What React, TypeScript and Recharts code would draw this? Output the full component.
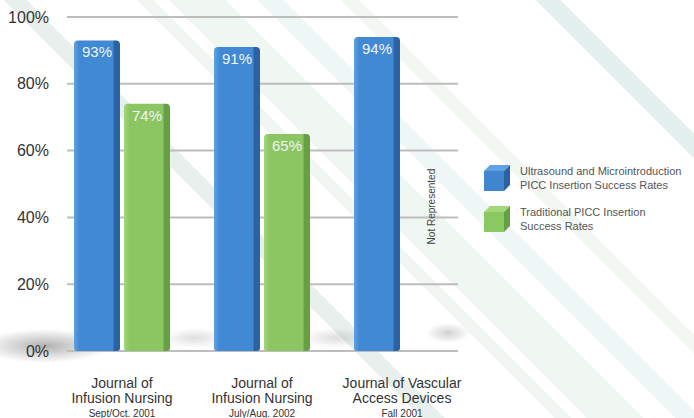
import { BarChart, Bar, XAxis, YAxis, CartesianGrid, LabelList, Legend } from "recharts"

// journals and results
const titleLine1 = ["Journal of", "Journal of", "Journal of Vascular"]
const titleLine2 = ["Infusion Nursing", "Infusion Nursing", "Access Devices"]
const issueDates = ["Sept/Oct. 2001", "July/Aug. 2002", "Fall 2001"]
const ultrasoundRates = [93, 91, 94]
const traditionalRates: (number | null)[] = [74, 65, null]
const yTicks = [0, 20, 40, 60, 80, 100]

const seriesNames = {
  ultrasound: ["Ultrasound and Microintroduction", "PICC Insertion Success Rates"],
  traditional: ["Traditional PICC Insertion", "Success Rates"],
}

const data = titleLine1.map((t, i) => ({
  key: String(i),
  ultrasound: ultrasoundRates[i],
  traditional: traditionalRates[i],
}))

const FONT = "'Liberation Sans', Arial, Helvetica, sans-serif"

const COLORS = {
  ultrasound: { light: "#5fa2e2", main: "#4189d2", dark: "#2b62a3", cube: "#3f86cf" },
  traditional: { light: "#a3d77a", main: "#8cc663", dark: "#679f45", cube: "#8ac862" },
}

const stripe = (t: number, w: number, c: string) =>
  `linear-gradient(45deg, transparent ${t}px, ${c} ${t}px, ${c} ${t + w}px, transparent ${t + w}px)`

const shadow = (x: number, y: number, rx: number, ry: number, a: number) =>
  `radial-gradient(ellipse ${rx}px ${ry}px at ${x}px ${y}px, rgba(70,70,70,${a}), rgba(70,70,70,0))`

const background = [
  shadow(45, 346, 65, 17, 0.42),
  shadow(195, 338, 32, 10, 0.18),
  shadow(335, 338, 32, 10, 0.18),
  shadow(448, 333, 22, 10, 0.25),
  stripe(298, 16, "#e9efec"),
  stripe(392, 12, "#f2f6f3"),
  stripe(415, 40, "#f0f6f2"),
  stripe(478, 18, "#eef7f6"),
  stripe(536, 14, "#f2f7f1"),
  stripe(674, 18, "#e3f0ee"),
].join(", ")

function JournalTick(props: any) {
  const { x, y, payload } = props
  const i = Number(payload.value)
  return (
    <g transform={`translate(${x},${y})`}>
      <text textAnchor="middle" fontFamily={FONT} fill="#333">
        <tspan x={0} dy={29} fontSize={14}>{titleLine1[i]}</tspan>
        <tspan x={0} dy={14.5} fontSize={14}>{titleLine2[i]}</tspan>
        <tspan x={0} dy={14.5} fontSize={10}>{issueDates[i]}</tspan>
      </text>
    </g>
  )
}

function PercentLabel(props: any) {
  const { x, y, width, height, value, index } = props
  const out = []
  if (value != null) {
    out.push(
      <text
        key="v"
        x={x + width / 2}
        y={y + 17}
        textAnchor="middle"
        fontFamily={FONT}
        fontSize={15}
        fill="#eef4fa"
      >
        {value}%
      </text>
    )
  }
  // gap where no traditional data exists
  if (props.series === "ultrasound" && traditionalRates[index] == null) {
    const cx = x + width * 1.5 + 12
    const cy = y + height * 0.54
    out.push(
      <text
        key="nr"
        x={cx}
        y={cy}
        transform={`rotate(-90 ${cx} ${cy})`}
        textAnchor="middle"
        fontFamily={FONT}
        fontSize={10}
        fill="#444"
      >
        Not Represented
      </text>
    )
  }
  return <g>{out}</g>
}

function Cube({ c }: { c: { light: string; main: string; dark: string; cube: string } }) {
  return (
    <svg width={28} height={28} style={{ display: "block" }}>
      <polygon points="1,7 7,1 27,1 21,7" fill={c.light} />
      <polygon points="21,7 27,1 27,21 21,27" fill={c.dark} />
      <rect x={1} y={7} width={20} height={20} fill={c.cube} />
    </svg>
  )
}

function LegendBox() {
  const rows = [
    { c: COLORS.ultrasound, lines: seriesNames.ultrasound },
    { c: COLORS.traditional, lines: seriesNames.traditional },
  ]
  return (
    <div style={{ fontFamily: FONT }}>
      {rows.map((r, i) => (
        <div key={i} style={{ display: "flex", alignItems: "center", marginBottom: 13 }}>
          <Cube c={r.c} />
          <div style={{ marginLeft: 9, fontSize: 11, lineHeight: "14px", color: "#555" }}>
            {r.lines.map((l) => (
              <div key={l}>{l}</div>
            ))}
          </div>
        </div>
      ))}
    </div>
  )
}

export default function App() {
  return (
    <div
      style={{
        position: "absolute",
        left: 0,
        top: 0,
        width: 694,
        height: 418,
        background: `${background}, #ffffff`,
        overflow: "hidden",
      }}
    >
      <BarChart
        width={694}
        height={418}
        data={data}
        margin={{ top: 17, right: 236, bottom: 7, left: 0 }}
        barGap={4}
        barCategoryGap={22}
      >
        <defs>
          {(["ultrasound", "traditional"] as const).map((k) => (
            <linearGradient key={k} id={`grad-${k}`} x1="0" y1="0" x2="1" y2="0">
              <stop offset="0" stopColor={COLORS[k].light} />
              <stop offset="0.12" stopColor={COLORS[k].main} />
              <stop offset="0.84" stopColor={COLORS[k].main} />
              <stop offset="0.88" stopColor={COLORS[k].dark} />
              <stop offset="1" stopColor={COLORS[k].dark} />
            </linearGradient>
          ))}
        </defs>
        <CartesianGrid vertical={false} stroke="#bdbdbd" strokeWidth={2} />
        <XAxis
          dataKey="key"
          tick={<JournalTick />}
          tickLine={false}
          axisLine={false}
          height={60}
          interval={0}
          padding={{ left: -15, right: -14 }}
        />
        <YAxis
          domain={[0, 100]}
          ticks={yTicks}
          tickFormatter={(v) => `${v}%`}
          tick={{ fontSize: 16, fill: "#333", fontFamily: FONT }}
          tickLine={false}
          axisLine={false}
          tickMargin={12}
          width={67}
        />
        <Legend
          layout="horizontal"
          align="center"
          verticalAlign="middle"
          content={<LegendBox />}
          wrapperStyle={{ position: "absolute", left: 483, top: 164, width: 211 }}
        />
        <Bar
          dataKey="ultrasound"
          name={seriesNames.ultrasound.join(" ")}
          fill="url(#grad-ultrasound)"
          radius={[4, 4, 3, 3]}
          isAnimationActive={false}
        >
          <LabelList dataKey="ultrasound" content={<PercentLabel series="ultrasound" />} />
        </Bar>
        <Bar
          dataKey="traditional"
          name={seriesNames.traditional.join(" ")}
          fill="url(#grad-traditional)"
          radius={[4, 4, 3, 3]}
          isAnimationActive={false}
        >
          <LabelList dataKey="traditional" content={<PercentLabel series="traditional" />} />
        </Bar>
      </BarChart>
    </div>
  )
}
